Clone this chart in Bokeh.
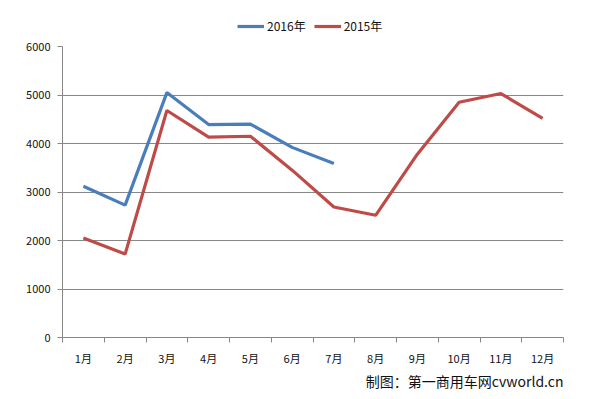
from bokeh.plotting import figure
from bokeh.layouts import column
from bokeh.models import (Range1d, FixedTicker, Legend, LegendItem, Label)
from bokeh.embed import file_html
from bokeh.resources import INLINE

months = ["1月", "2月", "3月", "4月", "5月", "6月", "7月", "8月", "9月", "10月", "11月", "12月"]
sales_2016 = [3120, 2730, 5050, 4390, 4400, 3920, 3590]
sales_2015 = [2050, 1720, 4680, 4130, 4150, 3450, 2690, 2520, 3780, 4850, 5030, 4520]
y_ticks = [0, 1000, 2000, 3000, 4000, 5000, 6000]
series_names = ["2016年", "2015年"]
source_note = "制图：第一商用车网cvworld.cn"

FONT = "Noto Sans CJK SC"
BLUE = "#4A7EBB"
RED = "#BE4B48"
GRID = "#878787"
TXT = "#111111"
W = 593
ML, MR = 62, 30

x16 = list(range(1, len(sales_2016) + 1))
x15 = list(range(1, len(sales_2015) + 1))


def strip(h):
    f = figure(width=W, height=h, output_backend="svg", toolbar_location=None,
               x_range=Range1d(0, 1), y_range=Range1d(0, 1),
               x_axis_location=None, y_axis_location=None,
               min_border_left=ML, min_border_right=MR, min_border_top=0, min_border_bottom=0)
    f.grid.visible = False
    f.outline_line_color = None
    return f


# ---- legend strip (series drawn off-range, only their legend entries show) ----
top = strip(36)
l16 = top.line(x16, sales_2016, line_color=BLUE, line_width=3.2)
l15 = top.line(x15, sales_2015, line_color=RED, line_width=3.2)
legend = Legend(items=[LegendItem(label=series_names[0], renderers=[l16]),
                       LegendItem(label=series_names[1], renderers=[l15])],
                location=(175, 2), orientation="horizontal",
                border_line_color=None, background_fill_alpha=0,
                glyph_width=27, glyph_height=16, label_height=16, label_standoff=3, spacing=8,
                padding=0, margin=0,
                label_text_font=FONT, label_text_font_size="12px", label_text_color=TXT)
top.add_layout(legend, "center")

# ---- main chart ----
p = figure(width=W, height=332, output_backend="svg", toolbar_location=None,
           x_range=Range1d(0.5, len(months) + 0.5), y_range=Range1d(0, 6000),
           min_border_left=ML, min_border_right=MR, min_border_top=10, min_border_bottom=30)
p.outline_line_color = None

p.line(x16, sales_2016, line_color=BLUE, line_width=3.2)
p.line(x15, sales_2015, line_color=RED, line_width=3.2)

p.xaxis.ticker = FixedTicker(ticks=x15, minor_ticks=[i + 0.5 for i in range(0, len(months) + 1)])
p.xaxis.major_label_overrides = {i + 1: m for i, m in enumerate(months)}
p.xaxis.major_tick_line_color = None
p.xaxis.minor_tick_line_color = GRID
p.xaxis.minor_tick_out = 5
p.xaxis.minor_tick_in = 0
p.xaxis.axis_line_color = GRID
p.xaxis.major_label_standoff = 6
p.xaxis.major_label_text_font = FONT
p.xaxis.major_label_text_font_size = "11px"
p.xaxis.major_label_text_color = TXT

p.yaxis.ticker = FixedTicker(ticks=y_ticks)
p.yaxis.minor_tick_line_color = None
p.yaxis.major_tick_line_color = GRID
p.yaxis.major_tick_out = 5
p.yaxis.major_tick_in = 0
p.yaxis.axis_line_color = GRID
p.yaxis.major_label_standoff = 7
p.yaxis.major_label_text_font = FONT
p.yaxis.major_label_text_font_size = "11px"
p.yaxis.major_label_text_color = TXT

p.xgrid.grid_line_color = None
p.ygrid.grid_line_color = GRID
p.ygrid.grid_line_width = 1

# ---- source note strip ----
bot = strip(31)
bot.add_layout(Label(x=501, y=19, x_units="screen", y_units="screen", text=source_note,
                     text_align="right", text_baseline="middle", text_font=FONT,
                     text_font_size="14px", text_color=TXT))

layout = column(top, p, bot, spacing=0)
open("out.html", "w").write(file_html(layout, INLINE))
